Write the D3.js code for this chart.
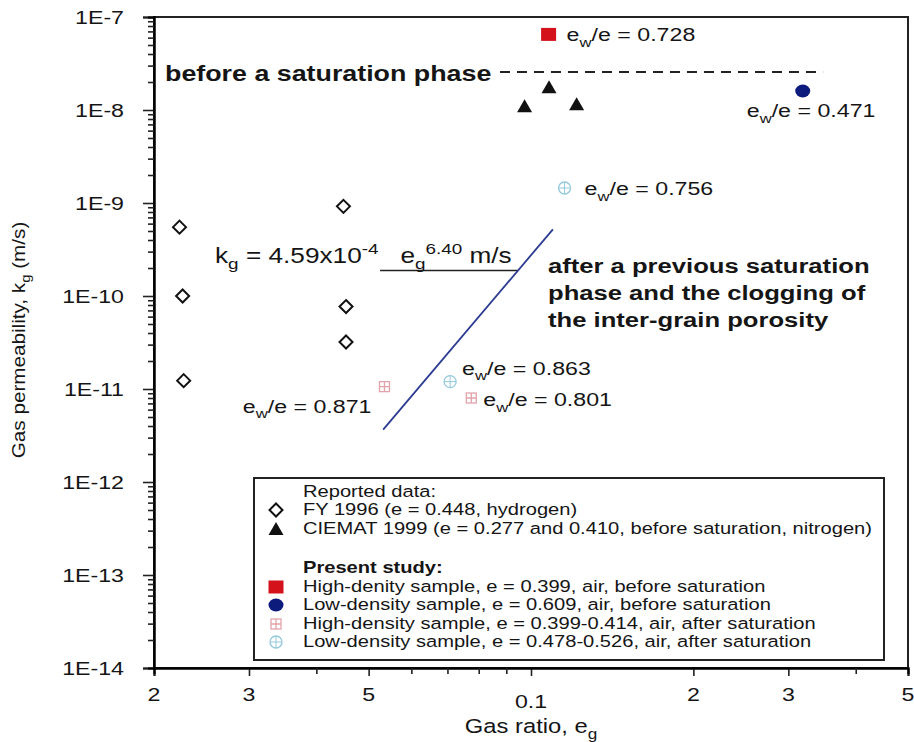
<!DOCTYPE html>
<html>
<head>
<meta charset="utf-8">
<script src="https://cdn.jsdelivr.net/npm/d3@7/dist/d3.min.js"></script>
<style>
  body { margin: 0; background: #fff; }
  text { font-family: Arial, "Liberation Sans", sans-serif; fill: #151515; white-space: pre; }
</style>
</head>
<body>
<script>
var svgWidth = 914;
var svgHeight = 742;

// FY 1996 (hydrogen)
var fyEg = [0.0223, 0.0226, 0.0227, 0.0449, 0.0454, 0.0454];
var fyKg = [5.5e-10, 1.0e-10, 1.23e-11, 9.2e-10, 7.7e-11, 3.2e-11];
// CIEMAT 1999 (nitrogen, before saturation)
var ciematEg = [0.0973, 0.108, 0.1215];
var ciematKg = [1.1e-8, 1.76e-8, 1.15e-8];
// present study
var hdBeforeEg = [0.1078], hdBeforeKg = [6.5e-8];
var ldBeforeEg = [0.319], ldBeforeKg = [1.6e-8];
var hdAfterEg = [0.0535, 0.0775], hdAfterKg = [1.06e-11, 8.0e-12];
var ldAfterEg = [0.1154, 0.0708], ldAfterKg = [1.45e-9, 1.2e-11];
var ratioLabels = ["0.728", "0.471", "0.756", "0.871", "0.801", "0.863"];

// fitted line and annotation lines
var fitEg = [0.0532, 0.1098], fitKg = [3.66e-12, 5.21e-10];
var satEg = [0.0876, 0.348], satKg = [2.56e-8, 2.56e-8];
var leaderEg = [0.0525, 0.0946], leaderKg = [1.88e-10, 1.88e-10];

// ticks
var xMajor = [0.02, 0.03, 0.05, 0.1, 0.2, 0.3, 0.5];
var xMajorLabels = ["2", "3", "5", "0.1", "2", "3", "5"];
var xMinor = [0.04, 0.06, 0.07, 0.08, 0.09, 0.4];
var yMajor = [1e-14, 1e-13, 1e-12, 1e-11, 1e-10, 1e-9, 1e-8, 1e-7];
var yMajorLabels = ["1E-14", "1E-13", "1E-12", "1E-11", "1E-10", "1E-9", "1E-8", "1E-7"];

var legendItems = [
  ["fy", "FY 1996 (e = 0.448, hydrogen)"],
  ["tri", "CIEMAT 1999 (e = 0.277 and 0.410, before saturation, nitrogen)"],
  ["sq", "High-denity sample, e = 0.399, air, before saturation"],
  ["dot", "Low-density sample, e = 0.609, air, before saturation"],
  ["hd", "High-density sample, e = 0.399-0.414, air, after saturation"],
  ["ld", "Low-density sample, e = 0.478-0.526, air, after saturation"]
];

var RED = "#d3121c", BLUE = "#0d1b7c", PINK = "#e3a3aa", LBLUE = "#93c9dc", FIT = "#2c3b92";
var SX = 1.22;

var svg = d3.select("body").append("svg")
  .attr("width", svgWidth)
  .attr("height", svgHeight);

var x = d3.scaleLog().domain([0.02, 0.5]).range([154, 908]);
var y = d3.scaleLog().domain([1e-14, 1e-7]).range([668, 17]);

// text with sub/superscripts, stretched horizontally like the scan
function txt(g, px, py, parts, o) {
  o = o || {};
  var size = o.size || 19;
  var t = g.append("text")
    .attr("transform", "translate(" + px + "," + py + ")" + (o.rot ? " rotate(-90)" : "") + " scale(" + (o.sx || SX) + ",1)")
    .attr("font-size", size)
    .attr("text-anchor", o.anchor || "start")
    .attr("font-weight", o.bold ? "bold" : null);
  var shift = 0;
  parts.forEach(function(p) {
    var s = typeof p === "string" ? p : p[0];
    var k = typeof p === "string" ? "" : p[1];
    var target = k === "sub" ? size * 0.3 : (k === "sup" ? -size * 0.42 : 0);
    t.append("tspan")
      .attr("dy", target - shift)
      .attr("font-size", k ? size * 0.72 : size)
      .text(s);
    shift = target;
  });
  return t;
}

function sym(g, type, cx, cy) {
  var s = g.append("g").attr("transform", "translate(" + cx + "," + cy + ")");
  if (type === "fy") {
    s.append("path").attr("d", "M0,-6.5L6.5,0L0,6.5L-6.5,0Z")
      .attr("fill", "#fff").attr("stroke", "#111").attr("stroke-width", 2);
  } else if (type === "tri") {
    s.append("path").attr("d", "M0,-7L7.5,6L-7.5,6Z").attr("fill", "#111");
  } else if (type === "sq") {
    s.append("rect").attr("x", -7.5).attr("y", -6.5).attr("width", 15).attr("height", 13).attr("fill", RED);
  } else if (type === "dot") {
    s.append("ellipse").attr("rx", 7.5).attr("ry", 6.5).attr("fill", BLUE);
  } else if (type === "hd") {
    s.append("rect").attr("x", -5).attr("y", -5).attr("width", 10).attr("height", 10)
      .attr("fill", "none").attr("stroke", PINK).attr("stroke-width", 1.3);
    s.append("path").attr("d", "M-5,0H5M0,-5V5").attr("stroke", PINK).attr("stroke-width", 1.3);
  } else if (type === "ld") {
    s.append("circle").attr("r", 6).attr("fill", "none").attr("stroke", LBLUE).attr("stroke-width", 1.3);
    s.append("path").attr("d", "M-6,0H6M0,-6V6").attr("stroke", LBLUE).attr("stroke-width", 1);
  }
}

// frame
svg.append("rect")
  .attr("x", x(0.02)).attr("y", y(1e-7))
  .attr("width", x(0.5) - x(0.02)).attr("height", y(1e-14) - y(1e-7))
  .attr("fill", "none").attr("stroke", "#222").attr("stroke-width", 2);

// axes
var axisG = svg.append("g").attr("stroke", "#222");
axisG.append("g").attr("transform", "translate(0," + y(1e-14) + ")")
  .call(d3.axisBottom(x).tickValues(xMajor).tickSize(8).tickFormat(""));
axisG.append("g").attr("transform", "translate(0," + y(1e-14) + ")")
  .call(d3.axisBottom(x).tickValues(xMinor).tickSize(6).tickFormat(""));
var yMinor = [];
yMajor.slice(0, -1).forEach(function(d) {
  for (var m = 2; m <= 9; m++) yMinor.push(d * m);
});
axisG.append("g").attr("transform", "translate(" + x(0.02) + ",0)")
  .call(d3.axisLeft(y).tickValues(yMajor).tickSize(11).tickFormat(""));
axisG.append("g").attr("transform", "translate(" + x(0.02) + ",0)")
  .call(d3.axisLeft(y).tickValues(yMinor).tickSize(6).tickFormat(""));
axisG.selectAll(".domain").attr("stroke-width", 2);
axisG.selectAll(".tick line").attr("stroke-width", 1.6).attr("stroke", "#222");

xMajor.forEach(function(d, i) {
  txt(svg, x(d), d === 0.1 ? 708 : 701, [xMajorLabels[i]], {anchor: "middle", size: 19});
});
yMajor.forEach(function(d, i) {
  txt(svg, 124, y(d) + 7, [yMajorLabels[i]], {anchor: "end", size: 19});
});

// axis titles
txt(svg, 531, 733, ["Gas ratio, e", ["g", "sub"]], {anchor: "middle", size: 19.5});
txt(svg, 25, 340, ["Gas permeability, k", ["g", "sub"], " (m/s)"], {anchor: "middle", size: 18, rot: true, sx: 1.15});

// lines
var line = d3.line().x(function(d) { return x(d[0]); }).y(function(d) { return y(d[1]); });
svg.append("path").datum(d3.zip(satEg, satKg)).attr("d", line)
  .attr("fill", "none").attr("stroke", "#222").attr("stroke-width", 2).attr("stroke-dasharray", "10,7");
svg.append("path").datum(d3.zip(leaderEg, leaderKg)).attr("d", line)
  .attr("fill", "none").attr("stroke", "#222").attr("stroke-width", 1.6);
svg.append("path").datum(d3.zip(fitEg, fitKg)).attr("d", line)
  .attr("fill", "none").attr("stroke", FIT).attr("stroke-width", 1.8);

// points
var pts = svg.append("g");
d3.zip(fyEg, fyKg).forEach(function(d) { sym(pts, "fy", x(d[0]), y(d[1])); });
d3.zip(ciematEg, ciematKg).forEach(function(d) { sym(pts, "tri", x(d[0]), y(d[1])); });
d3.zip(hdBeforeEg, hdBeforeKg).forEach(function(d) { sym(pts, "sq", x(d[0]), y(d[1])); });
d3.zip(ldBeforeEg, ldBeforeKg).forEach(function(d) { sym(pts, "dot", x(d[0]), y(d[1])); });
d3.zip(hdAfterEg, hdAfterKg).forEach(function(d) { sym(pts, "hd", x(d[0]), y(d[1])); });
d3.zip(ldAfterEg, ldAfterKg).forEach(function(d) { sym(pts, "ld", x(d[0]), y(d[1])); });

// e_w/e labels next to the points
var labelSpots = [
  [hdBeforeEg[0], hdBeforeKg[0], 18, 7, "start"],
  [ldBeforeEg[0], ldBeforeKg[0], -56, 26, "start"],
  [ldAfterEg[0], ldAfterKg[0], 20, 7, "start"],
  [hdAfterEg[0], hdAfterKg[0], -13, 26, "end"],
  [hdAfterEg[1], hdAfterKg[1], 12, 8, "start"],
  [ldAfterEg[1], ldAfterKg[1], 12, -7, "start"]
];
labelSpots.forEach(function(s, i) {
  txt(svg, x(s[0]) + s[2], y(s[1]) + s[3], ["e", ["w", "sub"], "/e = " + ratioLabels[i]], {anchor: s[4], size: 19});
});

// annotations
txt(svg, 165, 81, ["before a saturation phase"], {size: 22, bold: true});
txt(svg, 548, 273, ["after a previous saturation"], {size: 21, bold: true});
txt(svg, 548, 300, ["phase and the clogging of"], {size: 21, bold: true});
txt(svg, 548, 327, ["the inter-grain porosity"], {size: 21, bold: true});
txt(svg, 215, 263, ["k", ["g", "sub"], " = 4.59x10", ["-4", "sup"], "   e", ["g", "sub"], ["6.40", "sup"], " m/s"], {size: 21.5});

// legend
var lg = svg.append("g");
lg.append("rect").attr("x", 254).attr("y", 478).attr("width", 630).attr("height", 182)
  .attr("fill", "#fff").attr("stroke", "#222").attr("stroke-width", 2);
txt(lg, 303, 497, ["Reported data:"], {size: 16.5});
txt(lg, 303, 573, ["Present study:"], {size: 16.5, bold: true});
var rowY = [515, 534, 592, 610, 629, 647];
legendItems.forEach(function(it, i) {
  sym(lg, it[0], 276, rowY[i] - 5);
  txt(lg, 303, rowY[i], [it[1]], {size: 16.5});
});
</script>
</body>
</html>
